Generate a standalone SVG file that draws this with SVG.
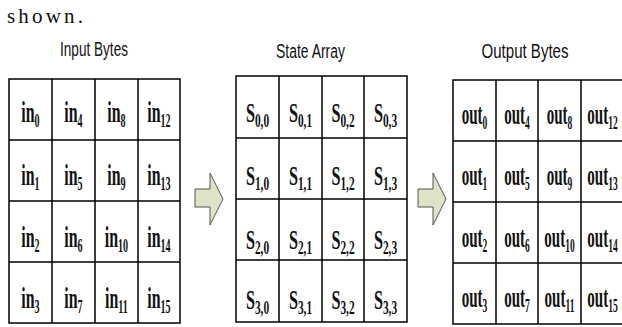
<svg xmlns="http://www.w3.org/2000/svg" width="622" height="327" viewBox="0 0 622 327">
  <style>
    .bg { fill: #ffffff; }
    .grid { fill: none; stroke: #000; stroke-width: 1.5; }
    .title { font-family: "Liberation Sans", Arial, sans-serif; font-size: 20px; fill: #111; text-anchor: middle; }
    .lead { font-family: "Liberation Serif", "Times New Roman", serif; font-size: 21px; fill: #111; }
    .c { font-family: "Liberation Serif", "Times New Roman", serif; font-weight: bold; font-size: 30px; fill: #111; text-anchor: middle; }
    .cs { font-family: "Liberation Serif", "Times New Roman", serif; font-weight: bold; font-size: 27px; fill: #111; text-anchor: middle; }
    .sub { font-size: 19px; }
    .arrow { fill: #dfe2c6; stroke: #555; stroke-width: 1; stroke-linejoin: miter; }
  </style>

  <rect class="bg" x="0" y="0" width="622" height="327"/>

  <text class="lead" x="7" y="23" textLength="76" lengthAdjust="spacing">shown.</text>

  <!-- input byte grid -->
  <g id="input-bytes">
    <text class="title" x="94" y="56" textLength="68" lengthAdjust="spacingAndGlyphs">Input Bytes</text>
    <rect class="grid" x="9" y="79" width="171" height="244"/>
    <path class="grid" d="M52 79V323M95 79V323M138 79V323M9 140H180M9 201H180M9 262H180"/>
    <text class="c" transform="translate(30.5 122) scale(.53 1)">in<tspan class="sub" dy="5">0</tspan></text>
    <text class="c" transform="translate(73.5 122) scale(.53 1)">in<tspan class="sub" dy="5">4</tspan></text>
    <text class="c" transform="translate(116.5 122) scale(.53 1)">in<tspan class="sub" dy="5">8</tspan></text>
    <text class="c" transform="translate(159 122) scale(.53 1)">in<tspan class="sub" dy="5">12</tspan></text>
    <text class="c" transform="translate(30.5 185) scale(.53 1)">in<tspan class="sub" dy="5">1</tspan></text>
    <text class="c" transform="translate(73.5 185) scale(.53 1)">in<tspan class="sub" dy="5">5</tspan></text>
    <text class="c" transform="translate(116.5 185) scale(.53 1)">in<tspan class="sub" dy="5">9</tspan></text>
    <text class="c" transform="translate(159 185) scale(.53 1)">in<tspan class="sub" dy="5">13</tspan></text>
    <text class="c" transform="translate(30.5 247) scale(.53 1)">in<tspan class="sub" dy="5">2</tspan></text>
    <text class="c" transform="translate(73.5 247) scale(.53 1)">in<tspan class="sub" dy="5">6</tspan></text>
    <text class="c" transform="translate(116.5 247) scale(.53 1)">in<tspan class="sub" dy="5">10</tspan></text>
    <text class="c" transform="translate(159 247) scale(.53 1)">in<tspan class="sub" dy="5">14</tspan></text>
    <text class="c" transform="translate(30.5 308) scale(.53 1)">in<tspan class="sub" dy="5">3</tspan></text>
    <text class="c" transform="translate(73.5 308) scale(.53 1)">in<tspan class="sub" dy="5">7</tspan></text>
    <text class="c" transform="translate(116.5 308) scale(.53 1)">in<tspan class="sub" dy="5">11</tspan></text>
    <text class="c" transform="translate(159 308) scale(.53 1)">in<tspan class="sub" dy="5">15</tspan></text>
  </g>

  <!-- state array grid -->
  <g id="state-array">
    <text class="title" x="310.5" y="58" textLength="69" lengthAdjust="spacingAndGlyphs">State Array</text>
    <rect class="grid" x="236" y="76" width="171" height="246"/>
    <path class="grid" d="M279 76V322M322 76V322M364 76V322M236 138H407M236 199H407M236 260H407"/>
    <text class="cs" transform="translate(257.5 122) scale(.6 1)">S<tspan class="sub" dy="5">0,0</tspan></text>
    <text class="cs" transform="translate(300.5 122) scale(.6 1)">S<tspan class="sub" dy="5">0,1</tspan></text>
    <text class="cs" transform="translate(343 122) scale(.6 1)">S<tspan class="sub" dy="5">0,2</tspan></text>
    <text class="cs" transform="translate(385.5 122) scale(.6 1)">S<tspan class="sub" dy="5">0,3</tspan></text>
    <text class="cs" transform="translate(257.5 185) scale(.6 1)">S<tspan class="sub" dy="5">1,0</tspan></text>
    <text class="cs" transform="translate(300.5 185) scale(.6 1)">S<tspan class="sub" dy="5">1,1</tspan></text>
    <text class="cs" transform="translate(343 185) scale(.6 1)">S<tspan class="sub" dy="5">1,2</tspan></text>
    <text class="cs" transform="translate(385.5 185) scale(.6 1)">S<tspan class="sub" dy="5">1,3</tspan></text>
    <text class="cs" transform="translate(257.5 249) scale(.6 1)">S<tspan class="sub" dy="5">2,0</tspan></text>
    <text class="cs" transform="translate(300.5 249) scale(.6 1)">S<tspan class="sub" dy="5">2,1</tspan></text>
    <text class="cs" transform="translate(343 249) scale(.6 1)">S<tspan class="sub" dy="5">2,2</tspan></text>
    <text class="cs" transform="translate(385.5 249) scale(.6 1)">S<tspan class="sub" dy="5">2,3</tspan></text>
    <text class="cs" transform="translate(257.5 309) scale(.6 1)">S<tspan class="sub" dy="5">3,0</tspan></text>
    <text class="cs" transform="translate(300.5 309) scale(.6 1)">S<tspan class="sub" dy="5">3,1</tspan></text>
    <text class="cs" transform="translate(343 309) scale(.6 1)">S<tspan class="sub" dy="5">3,2</tspan></text>
    <text class="cs" transform="translate(385.5 309) scale(.6 1)">S<tspan class="sub" dy="5">3,3</tspan></text>
  </g>

  <!-- output byte grid (right edge runs past the canvas) -->
  <g id="output-bytes">
    <text class="title" x="525" y="58" textLength="87" lengthAdjust="spacingAndGlyphs">Output Bytes</text>
    <rect class="grid" x="453" y="80" width="171" height="244"/>
    <path class="grid" d="M496 80V324M538 80V324M581 80V324M453 141H624M453 202H624M453 263H624"/>
    <text class="c" transform="translate(474.5 124) scale(.5 1)">out<tspan class="sub" dy="5">0</tspan></text>
    <text class="c" transform="translate(517 124) scale(.5 1)">out<tspan class="sub" dy="5">4</tspan></text>
    <text class="c" transform="translate(559.5 124) scale(.5 1)">out<tspan class="sub" dy="5">8</tspan></text>
    <text class="c" transform="translate(602.5 124) scale(.5 1)">out<tspan class="sub" dy="5">12</tspan></text>
    <text class="c" transform="translate(474.5 185) scale(.5 1)">out<tspan class="sub" dy="5">1</tspan></text>
    <text class="c" transform="translate(517 185) scale(.5 1)">out<tspan class="sub" dy="5">5</tspan></text>
    <text class="c" transform="translate(559.5 185) scale(.5 1)">out<tspan class="sub" dy="5">9</tspan></text>
    <text class="c" transform="translate(602.5 185) scale(.5 1)">out<tspan class="sub" dy="5">13</tspan></text>
    <text class="c" transform="translate(474.5 247) scale(.5 1)">out<tspan class="sub" dy="5">2</tspan></text>
    <text class="c" transform="translate(517 247) scale(.5 1)">out<tspan class="sub" dy="5">6</tspan></text>
    <text class="c" transform="translate(559.5 247) scale(.5 1)">out<tspan class="sub" dy="5">10</tspan></text>
    <text class="c" transform="translate(602.5 247) scale(.5 1)">out<tspan class="sub" dy="5">14</tspan></text>
    <text class="c" transform="translate(474.5 307) scale(.5 1)">out<tspan class="sub" dy="5">3</tspan></text>
    <text class="c" transform="translate(517 307) scale(.5 1)">out<tspan class="sub" dy="5">7</tspan></text>
    <text class="c" transform="translate(559.5 307) scale(.5 1)">out<tspan class="sub" dy="5">11</tspan></text>
    <text class="c" transform="translate(602.5 307) scale(.5 1)">out<tspan class="sub" dy="5">15</tspan></text>
  </g>

  <!-- block arrows between the grids -->
  <g id="connectors">
    <polygon class="arrow" points="195,189 210,189 210,173 223,199 210,225 210,207 195,207"/>
    <polygon class="arrow" points="418,189 433,189 433,173 446,199 433,225 433,207 418,207"/>
  </g>
</svg>
